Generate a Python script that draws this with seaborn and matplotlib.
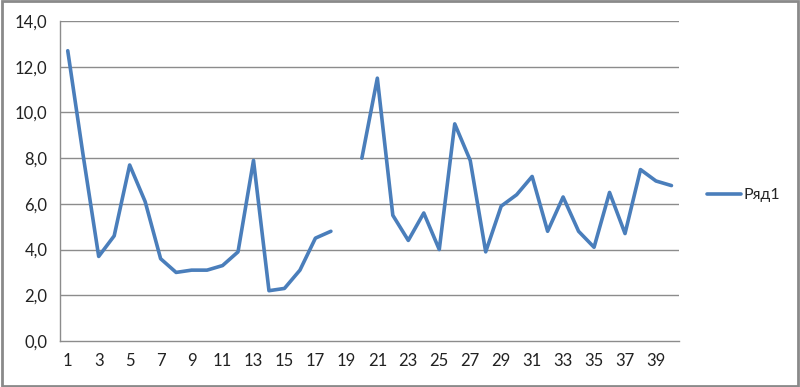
import numpy as np
import pandas as pd
import matplotlib
matplotlib.use("Agg")
import matplotlib.pyplot as plt
import seaborn as sns
from matplotlib.patches import Rectangle

categories = list(range(1, 41))
values = [12.7, 8.1, 3.7, 4.6, 7.7, 6.1, 3.6, 3.0, 3.1, 3.1,
          3.3, 3.9, 7.9, 2.2, 2.3, 3.1, 4.5, 4.8, np.nan, 8.0,
          11.5, 5.5, 4.4, 5.6, 4.0, 9.5, 7.9, 3.9, 5.9, 6.4,
          7.2, 4.8, 6.3, 4.8, 4.1, 6.5, 4.7, 7.5, 7.0, 6.8]
series_name = "Ряд1"
y_ticks = [0, 2, 4, 6, 8, 10, 12, 14]

sns.set_style("white")
plt.rcParams['font.family'] = ['Lato', 'DejaVu Sans']

df = pd.DataFrame({"cat": categories, "val": values})
df["pos"] = np.arange(len(df))
df["seg"] = df["val"].isna().cumsum()
df = df.dropna()

fig = plt.figure(figsize=(8.0, 3.87), dpi=100)
ax = fig.add_axes([0.075, 0.1189, 0.774, 0.8268])

line_color = "#4A7EBB"
sns.lineplot(data=df, x="pos", y="val", units="seg", estimator=None,
             color=line_color, linewidth=2.6, ax=ax, label=series_name)

ax.set_xlim(-0.5, len(categories) - 0.5)
ax.set_ylim(0, 14)
ax.set_xlabel("")
ax.set_ylabel("")

grid_c = "#8c8c8c"
ax.set_yticks(y_ticks)
ax.set_yticklabels([f"{t:.1f}".replace(".", ",") for t in y_ticks])
for t in y_ticks[1:]:
    ax.axhline(t, color=grid_c, linewidth=1.0, zorder=0)

ax.set_xticks(np.arange(0, len(categories), 2))
ax.set_xticklabels([str(c) for c in categories[::2]])
ax.set_xticks(np.arange(-0.5, len(categories), 1), minor=True)
ax.tick_params(axis="x", which="major", length=0, pad=9, labelsize=12, colors="#222222")
ax.tick_params(axis="x", which="minor", length=5, width=1, color=grid_c, direction="out")
ax.tick_params(axis="y", which="major", length=5, width=1, color=grid_c, labelsize=12,
               labelcolor="#222222", pad=4)

for s in ["top", "right"]:
    ax.spines[s].set_visible(False)
for s in ["left", "bottom"]:
    ax.spines[s].set_color(grid_c)
    ax.spines[s].set_linewidth(1.0)

handles, labels = ax.get_legend_handles_labels()
ax.legend(handles[:1], labels[:1], loc="center left", bbox_to_anchor=(0.866, 0.496),
          bbox_transform=fig.transFigure, frameon=False,
          fontsize=11.5, handlelength=2.1, handletextpad=0.15)

fig.patches.append(Rectangle((0.002, 0.003), 0.996, 0.994, transform=fig.transFigure,
                             fill=False, edgecolor="#8a8a8a", linewidth=2))

fig.savefig("out.png", dpi=100)
